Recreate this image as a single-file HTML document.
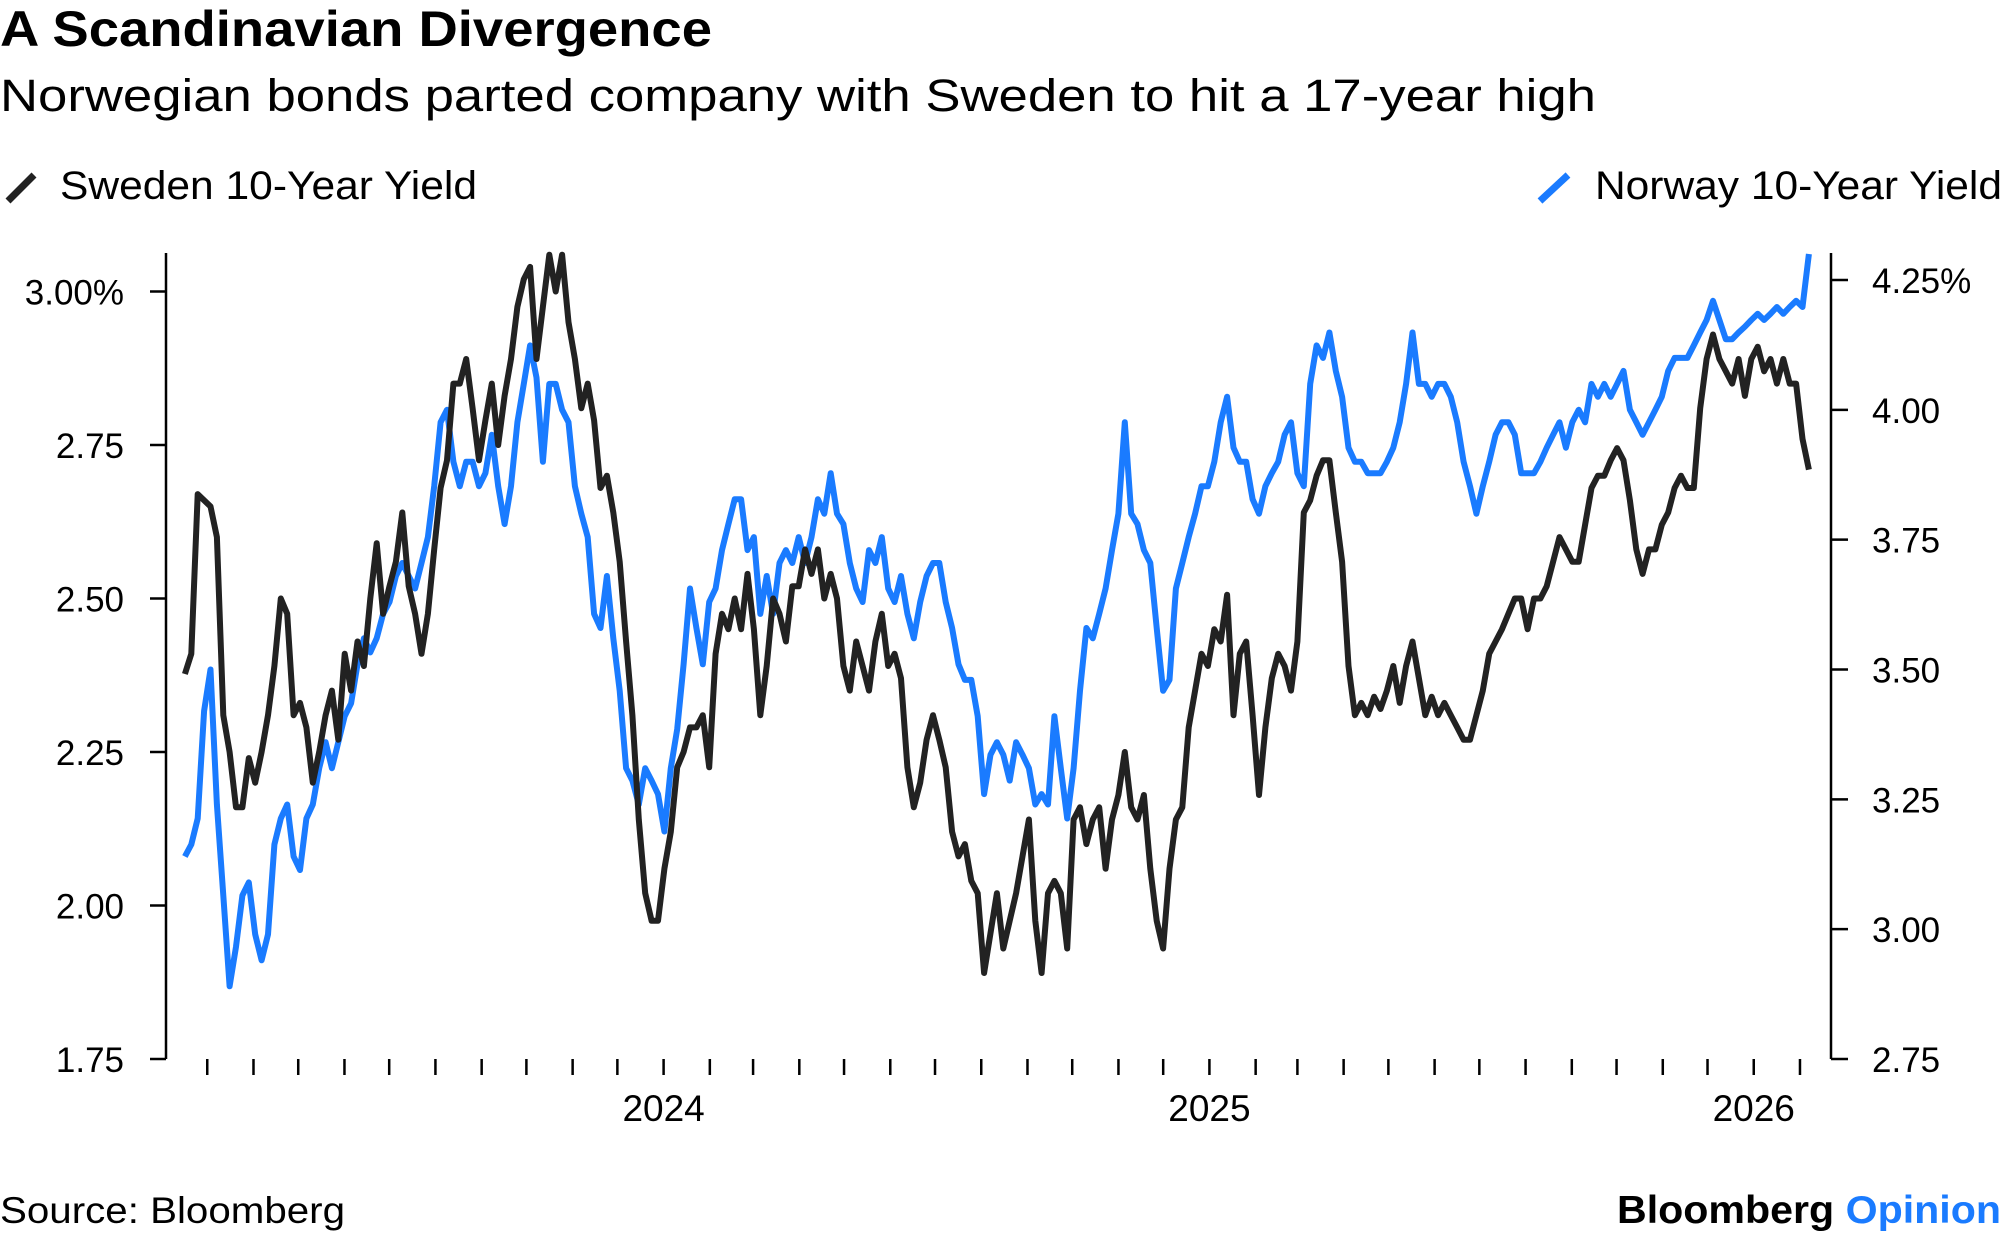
<!DOCTYPE html>
<html><head><meta charset="utf-8">
<style>
body{margin:0;background:#fff;width:2005px;height:1239px;overflow:hidden;font-family:"Liberation Sans",Arial,sans-serif;color:#000}
svg{position:absolute;left:0;top:0}
</style></head>
<body>
<svg id="chart" width="2005" height="1239" viewBox="0 0 2005 1239">
<text x="0" y="46" font-size="50" font-weight="bold" textLength="712" lengthAdjust="spacingAndGlyphs">A Scandinavian Divergence</text>
<text x="0" y="111" font-size="45" textLength="1596" lengthAdjust="spacingAndGlyphs">Norwegian bonds parted company with Sweden to hit a 17-year high</text>
<g>
<line x1="8" y1="201" x2="34" y2="175" stroke="#222" stroke-width="7"/>
<text x="60" y="199" font-size="40" textLength="417" lengthAdjust="spacingAndGlyphs">Sweden 10-Year Yield</text>
</g>
<g>
<line x1="1540" y1="201" x2="1568" y2="175" stroke="#1a7bff" stroke-width="7"/>
<text x="1595" y="199" font-size="40" textLength="407" lengthAdjust="spacingAndGlyphs">Norway 10-Year Yield</text>
</g>
<g id="axes"></g>
<g id="series"></g>
<text x="0" y="1223" font-size="37" textLength="345" lengthAdjust="spacingAndGlyphs">Source: Bloomberg</text>
<text x="1617" y="1223" font-size="39" font-weight="bold" textLength="384" lengthAdjust="spacingAndGlyphs">Bloomberg <tspan fill="#1a7bff">Opinion</tspan></text>
</svg>
<script>
const startDate = "2023-02-14";
const stepDays = 4.2873;
const swedenValues = [2.377,2.41,2.67,2.66,2.65,2.60,2.31,2.25,2.16,2.16,2.24,2.20,
2.25,2.31,2.39,2.50,2.475,2.31,2.33,2.29,2.20,2.25,2.31,2.35,2.27,2.41,2.35,2.43,2.39,2.50,2.59,2.475,2.52,2.56,2.64,2.52,2.475,2.41,2.475,2.58,2.68,2.725,2.85,2.85,2.89,2.81,2.725,2.79,2.85,2.75,2.83,2.89,2.975,3.02,3.04,2.89,2.975,3.06,3.00,3.06,2.95,2.89,2.81,2.85,2.79,2.68,2.70,2.64,2.56,2.43,2.31,2.14,2.02,1.975,1.975,2.06,2.12,2.225,2.25,2.29,2.29,2.31,2.225,2.41,2.475,2.45,2.50,2.45,2.54,2.45,2.31,2.39,2.50,2.475,2.43,2.52,2.52,2.58,2.54,2.58,2.50,2.54,2.50,2.39,2.35,2.43,2.39,2.35,2.43,2.475,2.39,2.41,2.37,2.225,2.16,2.20,2.27,2.31,2.27,2.225,2.12,2.08,2.10,2.04,2.02,1.89,1.955,2.02,1.93,1.975,2.02,2.08,2.14,1.975,1.89,2.02,2.04,2.02,1.93,2.14,2.16,2.10,2.14,2.16,2.06,2.14,2.18,2.25,2.16,2.14,2.18,2.06,1.975,1.93,2.06,2.14,2.16,2.29,2.35,2.41,2.39,2.45,2.43,2.506,2.31,2.41,2.43,2.31,2.18,2.29,2.37,2.41,2.39,2.35,2.43,2.64,2.66,2.70,2.725,2.725,2.64,2.56,2.39,2.31,2.33,2.31,2.34,2.32,2.35,2.39,2.33,2.39,2.43,2.37,2.31,2.34,2.31,2.33,2.31,2.29,2.27,2.27,2.31,2.35,2.41,2.43,2.45,2.475,2.50,2.50,2.45,2.50,2.50,2.52,2.56,2.60,2.58,2.56,2.56,2.62,2.68,2.70,2.70,2.725,2.745,2.725,2.66,2.58,2.54,2.58,2.58,2.62,2.64,2.68,2.70,2.68,2.68,2.81,2.89,2.93,2.89,2.87,2.85,2.89,2.83,2.89,2.91,2.87,2.89,2.85,2.89,2.85,2.85,2.76,2.71];
const norwayValues = [3.14,3.163,3.213,3.42,3.50,3.24,3.065,2.89,2.966,3.065,3.09,2.99,2.94,2.99,3.163,3.213,3.24,3.14,3.114,3.213,3.24,3.31,3.36,3.31,3.36,3.41,3.435,3.51,3.56,3.533,3.56,3.607,3.63,3.68,3.705,3.68,3.656,3.705,3.755,3.853,3.976,4.00,3.90,3.853,3.90,3.90,3.853,3.878,3.952,3.853,3.78,3.853,3.976,4.05,4.124,4.062,3.90,4.05,4.05,4.00,3.976,3.853,3.80,3.755,3.607,3.58,3.68,3.56,3.459,3.31,3.286,3.24,3.31,3.286,3.26,3.188,3.31,3.385,3.51,3.656,3.58,3.51,3.63,3.656,3.73,3.78,3.828,3.828,3.73,3.755,3.607,3.68,3.607,3.705,3.73,3.705,3.755,3.705,3.755,3.828,3.80,3.878,3.80,3.78,3.705,3.656,3.63,3.73,3.705,3.755,3.656,3.63,3.68,3.607,3.56,3.63,3.68,3.705,3.705,3.63,3.58,3.51,3.48,3.48,3.41,3.26,3.336,3.36,3.336,3.286,3.36,3.336,3.31,3.24,3.26,3.24,3.41,3.31,3.213,3.31,3.459,3.58,3.56,3.607,3.656,3.73,3.80,3.976,3.80,3.78,3.73,3.705,3.58,3.459,3.48,3.656,3.705,3.755,3.80,3.853,3.853,3.90,3.976,4.025,3.927,3.90,3.90,3.828,3.80,3.853,3.878,3.90,3.952,3.976,3.878,3.853,4.05,4.124,4.10,4.149,4.075,4.025,3.927,3.90,3.90,3.878,3.878,3.878,3.90,3.927,3.976,4.05,4.149,4.05,4.05,4.025,4.05,4.05,4.025,3.976,3.90,3.853,3.80,3.853,3.90,3.952,3.976,3.976,3.952,3.878,3.878,3.878,3.90,3.927,3.952,3.976,3.927,3.976,4.00,3.976,4.05,4.025,4.05,4.025,4.05,4.075,4.00,3.976,3.952,3.976,4.00,4.025,4.075,4.10,4.10,4.10,4.124,4.149,4.173,4.21,4.173,4.136,4.136,4.149,4.16,4.173,4.185,4.173,4.185,4.198,4.185,4.198,4.21,4.198,4.30];
const leftTicks = [1.75,2.00,2.25,2.50,2.75,3.00];
const leftTickLabels = ["1.75","2.00","2.25","2.50","2.75","3.00%"];
const rightTicks = [2.75,3.00,3.25,3.50,3.75,4.00,4.25];
const rightTickLabels = ["2.75","3.00","3.25","3.50","3.75","4.00","4.25%"];
const yearLabels = ["2024","2025","2026"];

const NS="http://www.w3.org/2000/svg";
const DAY=86400000;
const t0=Date.UTC(2024,0,1);
function xScale(ms){return 663.6+(ms-t0)/(365.25*DAY)*544.7;}
function yLeft(v){return 291.5+(3.00-v)/1.25*(1059-291.5);}
function yRight(v){return 280+(4.25-v)/1.5*(1059-280);}
const s0=Date.parse(startDate+"T00:00:00Z");
function dateAt(i){return s0+i*stepDays*DAY;}
function mk(tag,attrs,parent){const e=document.createElementNS(NS,tag);for(const k in attrs)e.setAttribute(k,attrs[k]);parent.appendChild(e);return e;}
const axes=document.getElementById('axes');
const series=document.getElementById('series');
const la=mk('line',{x1:166,y1:253,x2:166,y2:1059,stroke:'#000','stroke-width':2.5},axes);


const ra=mk('line',{x1:1831,y1:253,x2:1831,y2:1059,stroke:'#000','stroke-width':2.5},axes);


leftTicks.forEach((v,i)=>{
  const y=yLeft(v);
  const tk=mk('line',{x1:150,y1:y,x2:166,y2:y,stroke:'#000','stroke-width':2.5},axes);
  
  
  const tx=mk('text',{x:124,y:y+13,'font-size':35,'text-anchor':'end'},axes);
  tx.textContent=leftTickLabels[i];
  
  
});
rightTicks.forEach((v,i)=>{
  const y=yRight(v);
  const tk=mk('line',{x1:1831,y1:y,x2:1848,y2:y,stroke:'#000','stroke-width':2.5},axes);
  
  
  const tx=mk('text',{x:1872,y:y+13,'font-size':35},axes);
  tx.textContent=rightTickLabels[i];
  
  
});
for(let y=2023,m=2;y<2026||(y===2026&&m<=1);){
  const ms=Date.UTC(y,m,1);
  const x=xScale(ms);
  const tk=mk('line',{x1:x,y1:1059,x2:x,y2:1075,stroke:'#000','stroke-width':2.5},axes);
  
  
  if(m===0){
    const tx=mk('text',{x:x,y:1121,'font-size':37,'text-anchor':'middle'},axes);
    tx.textContent=yearLabels[y-2024];
    
    
  }
  m++; if(m>11){m=0;y++;}
}
function linePath(vals,yf){
  return vals.map((v,i)=>(i?'L':'M')+xScale(dateAt(i)).toFixed(1)+','+yf(v).toFixed(1)).join(' ');
}
const nw=mk('path',{d:linePath(norwayValues,yRight),fill:'none',stroke:'#1a7bff','stroke-width':6,'stroke-linejoin':'round'},series);


const sw=mk('path',{d:linePath(swedenValues,yLeft),fill:'none',stroke:'#222','stroke-width':6,'stroke-linejoin':'round'},series);


</script>
</body></html>
